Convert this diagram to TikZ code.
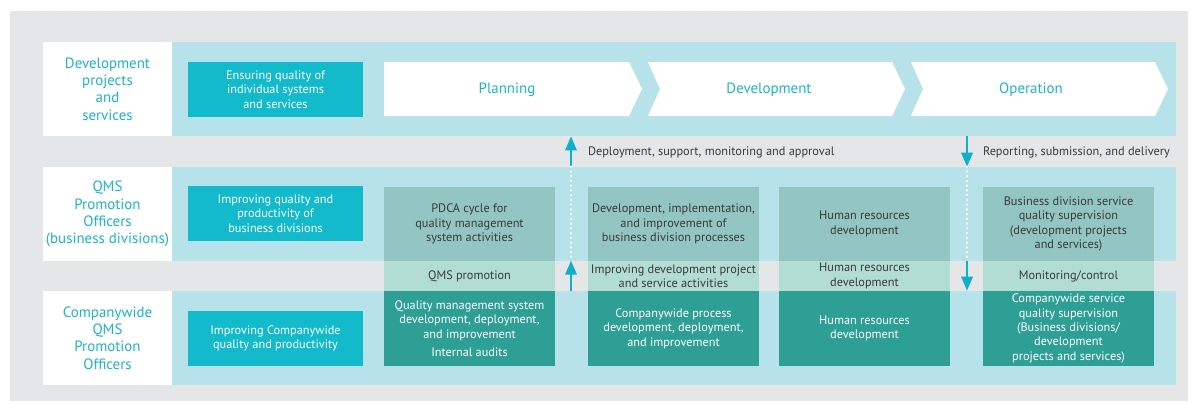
\documentclass[tikz,border=0pt]{standalone}
\usepackage{fontspec}
\setmainfont{PT Sans}
\usetikzlibrary{arrows.meta}

\definecolor{qmsgray}{HTML}{E4E6E8}
\definecolor{qmsband}{HTML}{B8E2EA}
\definecolor{qmscyan}{HTML}{12BACB}
\definecolor{qmstext}{HTML}{1DB4CC}
\definecolor{qmssage}{HTML}{93C5C2}
\definecolor{qmsmint}{HTML}{B2DDD3}
\definecolor{qmsteal}{HTML}{2E9F95}
\definecolor{qmsdark}{HTML}{3A3A3A}
\definecolor{qmsarrow}{HTML}{10B0CB}

\newlength\pxu
\setlength\pxu{0.02cm}

\begin{document}
\begin{tikzpicture}[
        x=0.02cm, y=-0.02cm,
        band/.style={rectangle, fill=qmsband, minimum width=1004\pxu, minimum height=94\pxu, inner sep=0pt},
        rowlabel/.style={rectangle, fill=white, minimum width=129\pxu, minimum height=94\pxu, inner sep=0pt, align=center, text=qmstext, font=\fontsize{8.5}{9.8}\selectfont},
        goalbox/.style={rectangle, fill=qmscyan, minimum width=175\pxu, minimum height=55\pxu, inner sep=0pt, align=center, text=white, font=\fontsize{7}{8.2}\selectfont},
        upperbox/.style={rectangle, fill=qmssage, minimum width=171\pxu, minimum height=74\pxu, inner sep=0pt, align=center, text=qmsdark, font=\fontsize{7}{8.2}\selectfont},
        midbox/.style={rectangle, fill=qmsmint, minimum width=171\pxu, minimum height=30\pxu, inner sep=0pt, align=center, text=qmsdark, font=\fontsize{7}{8.2}\selectfont},
        lowerbox/.style={rectangle, fill=qmsteal, minimum width=171\pxu, minimum height=75\pxu, inner sep=0pt, align=center, text=white, font=\fontsize{7}{8.2}\selectfont},
        phase/.style={text=qmstext, font=\fontsize{8.5}{10}\selectfont},
        flowlabel/.style={anchor=west, inner sep=0pt, text=qmsdark, font=\fontsize{7}{8.2}\selectfont},
        flowarrow/.style={draw=qmsarrow, line width=1.2pt, -{Triangle[length=8pt, width=6.5pt]}},
        dotline/.style={draw=white, line width=1.4pt, line cap=round, dash pattern=on 0pt off 2.7pt}
    ]
        \useasboundingbox (0,0) rectangle (1192,403);
        \fill[qmsgray] (10,11) rectangle (1188,401);

        % Rows
        \node (row1) [band] at (674,89) {};
        \node (row2) [band] at (674,214) {};
        \node (row3) [band] at (674,338) {};
        \node (lab1) [rowlabel] at (107.5,89) {Development\\projects\\and\\services};
        \node (lab2) [rowlabel] at (107.5,214) {QMS\\Promotion\\Officers\\(business divisions)};
        \node (lab3) [rowlabel] at (107.5,338) {Companywide\\QMS\\Promotion\\Officers};

        % Goals
        \node (goal1) [goalbox] at (275.5,89.5) {Ensuring quality of\\individual systems\\and services};
        \node (goal2) [goalbox] at (275.5,213.5) {Improving quality and\\productivity of\\business divisions};
        \node (goal3) [goalbox] at (275.5,338.5) {Improving Companywide\\quality and productivity};

        % Phases
        \fill[white] (384,62) -- (629,62) -- (642,89) -- (629,116) -- (384,116) -- cycle;
        \fill[white] (648,62) -- (892,62) -- (905,89) -- (892,116) -- (648,116) -- (660,89) -- cycle;
        \fill[white] (911,62) -- (1155,62) -- (1168,89) -- (1155,116) -- (911,116) -- (923,89) -- cycle;
        \node (plan) [phase] at (507,90) {Planning};
        \node (devel) [phase] at (769,90) {Development};
        \node (oper) [phase] at (1031,90) {Operation};

        % Activities
        \node (colA-top) [upperbox] at (469.5,224) {PDCA cycle for\\quality management\\system activities};
        \node (colA-mid) [midbox] at (469.5,276) {QMS promotion};
        \node (colA-low) [lowerbox] at (469.5,328.5) {Quality management system\\development, deployment,\\and improvement\\[2pt]Internal audits};

        \node (colB-top) [upperbox] at (673.5,224) {Development, implementation,\\and improvement of\\business division processes};
        \node (colB-mid) [midbox] at (673.5,276) {Improving development project\\and service activities};
        \node (colB-low) [lowerbox] at (673.5,328.5) {Companywide process\\development, deployment,\\and improvement};

        \node (colC-top) [upperbox] at (864.5,224) {Human resources\\development};
        \node (colC-mid) [midbox] at (864.5,276) {Human resources\\development};
        \node (colC-low) [lowerbox] at (864.5,328.5) {Human resources\\development};

        \node (colD-top) [upperbox] at (1068.5,224) {Business division service\\quality supervision\\(development projects\\and services)};
        \node (colD-mid) [midbox] at (1068.5,276) {Monitoring/control};
        \node (colD-low) [lowerbox] at (1068.5,328.5) {Companywide service\\quality supervision\\(Business divisions/\\development\\projects and services)};

        % Arrows
        \coordinate (upx) at (571,152);
        \coordinate (downx) at (967,152);
        \draw [flowarrow] (row2.north -| upx) -- (row1.south -| upx);
        \draw [dotline] (row2.north -| upx) -- (colA-mid.north -| upx);
        \draw [flowarrow] (row3.north -| upx) -- (colA-mid.north -| upx);
        \draw [flowarrow] (row1.south -| downx) -- (row2.north -| downx);
        \draw [dotline] (row2.north -| downx) -- (colD-mid.north -| downx);
        \draw [flowarrow] (colD-mid.north -| downx) -- (row3.north -| downx);

        \node (deploy) [flowlabel] at (colB-top.west |- upx) {Deployment, support, monitoring and approval};
        \node (report) [flowlabel] at (colD-top.west |- downx) {Reporting, submission, and delivery};
    \end{tikzpicture}
\end{document}
